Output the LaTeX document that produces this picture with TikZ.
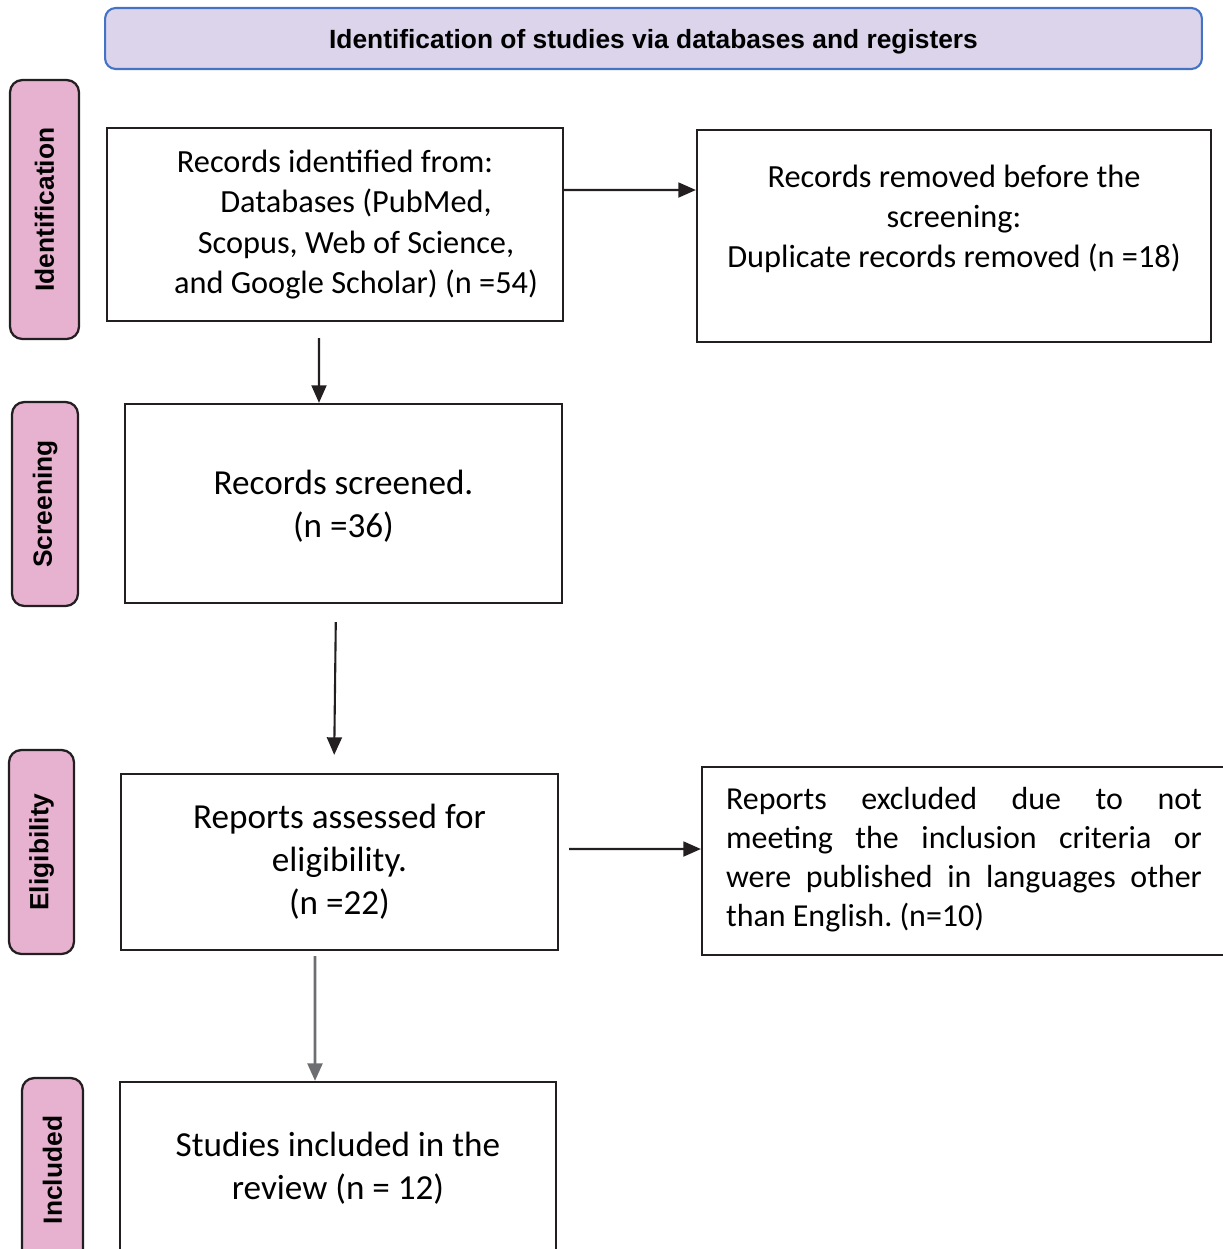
\documentclass[tikz,border=0pt]{standalone}
\usepackage{fontspec}
\setmainfont{Carlito}
\newfontfamily\phasefont{Liberation Sans}
\usetikzlibrary{arrows.meta}

\definecolor{headfill}{HTML}{DCD4EA}
\definecolor{headline}{HTML}{4472C4}
\definecolor{phasefill}{HTML}{E7B1D0}
\definecolor{inkline}{HTML}{231F20}
\definecolor{greyarrow}{HTML}{6D6E71}

\begin{document}
\begin{tikzpicture}[
  x=0.02cm, y=-0.02cm,
  % plain white step box; text set in Carlito
  box/.style={
    rectangle, draw=inkline, line width=1.3pt, fill=white,
    inner sep=0pt, align=center,
    font={\fontsize{20}{24.4}\selectfont\frenchspacing}
  },
  small/.style={font={\fontsize{18.4}{23}\selectfont}},
  txt/.style={inner sep=0pt, align=center, font={\fontsize{18.4}{22.6}\selectfont\frenchspacing}},
  % pink phase tab on the left, text turned upright
  phase/.style={
    rectangle, rounded corners=7pt,
    draw=inkline, line width=1.3pt, fill=phasefill,
    rotate=90, inner sep=0pt,
    font={\phasefont\bfseries\fontsize{15}{18}\selectfont}
  },
  head/.style={
    rectangle, rounded corners=6pt,
    draw=headline, line width=1.2pt, fill=headfill,
    inner sep=0pt,
    font={\phasefont\bfseries\fontsize{15}{18}\selectfont}
  },
  arr/.style={-{Triangle[length=10pt,width=8.5pt]}, inkline, line width=1.2pt},
]
\useasboundingbox (0,0) rectangle (1223,1249);

%% ── Header ────────────────────────────────────────────────────────────────
\node[head, minimum width=21.94cm, minimum height=1.22cm, text height=14.3pt, text depth=3.3pt] (head) at (653.5,38.5)
  {Identification of studies via databases and registers};

%% ── Phase tabs ────────────────────────────────────────────────────────────
\node[phase, minimum width=5.18cm, minimum height=1.38cm] (pident)  at (44.5,209.5) {Identification};
\node[phase, minimum width=4.08cm, minimum height=1.32cm] (pscreen) at (45,504)    {Screening};
\node[phase, minimum width=4.08cm, minimum height=1.30cm] (pelig)   at (41.5,852)  {Eligibility};
\node[phase, minimum width=3.68cm, minimum height=1.22cm] (pincl)   at (52.5,1170) {Included};

%% ── Identification ────────────────────────────────────────────────────────
\node[box, small, minimum width=9.12cm, minimum height=3.86cm] (ident) at (335,224.5) {
  Records identified from:\\
  \hspace*{0.84cm}Databases (PubMed,\\
  \hspace*{0.84cm}Scopus, Web of Science,\\
  \hspace*{0.84cm}and Google Scholar) (n =54)
};

\node[box, minimum width=10.28cm, minimum height=4.24cm] (removed) at (954,236) {};
\node[txt] (removedtxt) at (954,219) {
  Records removed before the\\
  screening:\\
  Duplicate records removed (n =18)
};

%% ── Screening ─────────────────────────────────────────────────────────────
\node[box, minimum width=8.74cm, minimum height=3.98cm] (screen) at (343.5,503.5) {};
\node[txt, font={\fontsize{20}{24.4}\selectfont}] (screentxt) at (343.5,506) {
  Records screened.\\
  (n =36)
};

%% ── Eligibility ───────────────────────────────────────────────────────────
\node[box, minimum width=8.74cm, minimum height=3.52cm] (elig) at (339.5,862) {
  Reports assessed for\\
  eligibility.\\
  (n =22)
};

\node[box, minimum width=10.48cm, minimum height=3.76cm] (excl) at (964,861) {};
\node[txt, text width=9.52cm, align=justify, font={\fontsize{18.2}{22.2}\selectfont\frenchspacing\hyphenpenalty=10000}] (excltxt) at (964,860) {
  Reports excluded due to not\linebreak
  meeting the inclusion criteria or\linebreak
  were published in languages other\linebreak
  than English. (n=10)
};

%% ── Included ──────────────────────────────────────────────────────────────
\node[box, minimum width=8.72cm, minimum height=3.6cm] (incl) at (338,1172) {};
\node[txt, font={\fontsize{20}{24.4}\selectfont}] (incltxt) at (338,1168) {
  Studies included in the\\
  review (n = 12)
};

%% ── Arrows ────────────────────────────────────────────────────────────────
\draw[arr] ([yshift=0.69cm]ident.east) -- ([yshift=0.92cm]removed.west);
\draw[arr, shorten <=0.32cm] ([xshift=-0.32cm]ident.south) -- ([xshift=-0.49cm]screen.north);
\draw[arr, shorten <=0.36cm, shorten >=0.36cm] ([xshift=-0.15cm]screen.south) -- ([xshift=-0.11cm]elig.north);
\draw[arr, shorten <=0.2cm] ([yshift=0.26cm]elig.east) -- ([yshift=0.24cm]excl.west);
\draw[arr, greyarrow, line width=1.5pt, shorten <=0.1cm] ([xshift=-0.49cm]elig.south) -- ([xshift=-0.46cm]incl.north);

\end{tikzpicture}
\end{document}
